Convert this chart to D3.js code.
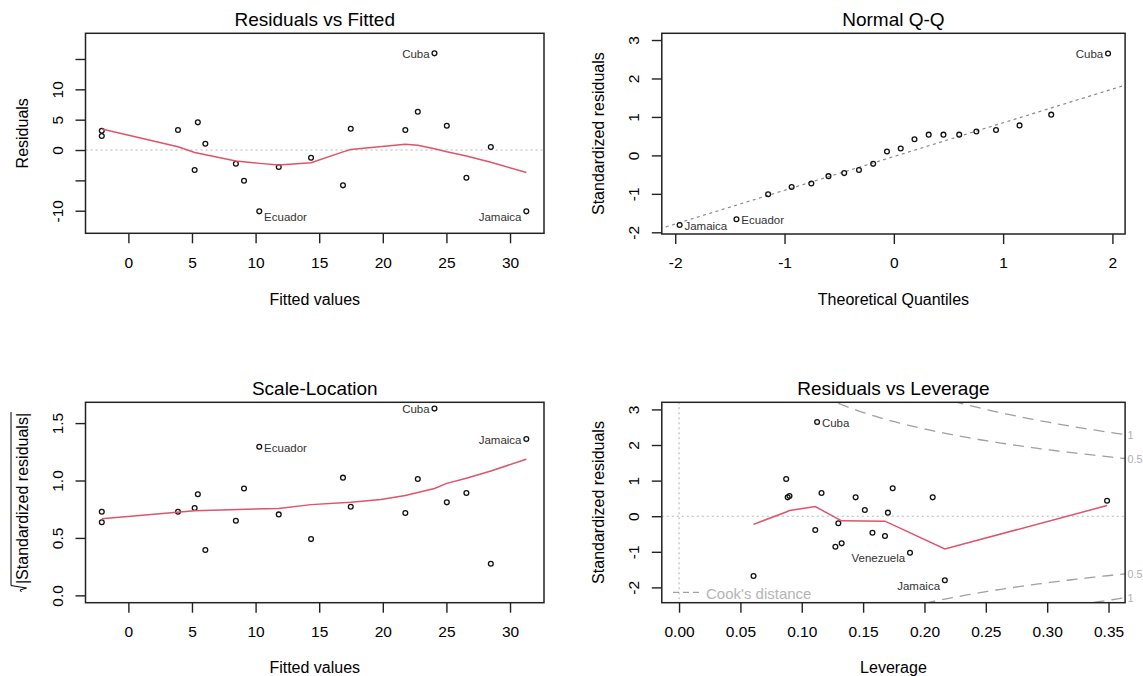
<!DOCTYPE html>
<html><head><meta charset="utf-8">
<script src="https://cdn.jsdelivr.net/npm/d3@7"></script>
<style>html,body{margin:0;padding:0;background:#fff;} svg{display:block;}</style>
</head><body><svg id="c" width="1143" height="676"></svg>
<script>
// ---------- data ----------
const fittedValues   = [-2.09, -2.09, 3.90, 5.21, 5.46, 6.05, 8.45, 9.09, 10.29, 11.82, 14.36, 16.87, 17.48, 21.77, 22.75, 24.06, 25.03, 26.57, 28.49, 31.28];
const residualValues = [3.18, 2.31, 3.29, -3.29, 4.56, 1.04, -2.26, -5.06, -10.1, -2.80, -1.27, -5.82, 3.51, 3.29, 6.31, 15.93, 4.00, -4.56, 0.49, -10.1];
const sqrtStdResiduals = [0.728, 0.636, 0.728, 0.760, 0.880, 0.395, 0.650, 0.930, 1.294, 0.705, 0.490, 1.025, 0.772, 0.717, 1.013, 1.626, 0.810, 0.891, 0.275, 1.361];
const theoreticalQuantiles = [-1.96, -1.44, -1.15, -0.935, -0.755, -0.598, -0.454, -0.319, -0.189, -0.063, 0.063, 0.189, 0.319, 0.454, 0.598, 0.755, 0.935, 1.15, 1.44, 1.96];
const sortedStdResiduals   = [-1.81, -1.66, -1.01, -0.82, -0.73, -0.54, -0.46, -0.38, -0.22, 0.10, 0.18, 0.42, 0.54, 0.54, 0.54, 0.62, 0.66, 0.78, 1.06, 2.65];
const leverageValues = [0.1125, 0.0873, 0.0885, 0.0900, 0.1161, 0.1439, 0.1514, 0.1702, 0.1741, 0.2067, 0.3488, 0.0607, 0.1110, 0.1298, 0.1274, 0.1325, 0.1576, 0.1678, 0.1882, 0.2166];
const leverageStdResiduals = [2.646, 1.045, 0.530, 0.567, 0.652, 0.530, 0.174, 0.100, 0.784, 0.530, 0.436, -1.68, -0.388, -0.200, -0.857, -0.762, -0.463, -0.556, -1.025, -1.80];

const smoothFitX = [-2.09, 3.90, 5.21, 8.45, 10.29, 11.82, 14.36, 16.87, 17.48, 21.77, 22.75, 24.06, 25.03, 26.57, 28.49, 31.28];
const smoothFitY = [3.46, 0.55, -0.40, -1.80, -2.20, -2.47, -2.10, -0.30, 0.10, 0.94, 0.80, 0.20, -0.30, -1.00, -2.00, -3.70];
const smoothScaleX = [-2.09, 5.21, 11.82, 14.36, 17.48, 19.85, 21.77, 24.06, 25.03, 26.57, 28.49, 31.28];
const smoothScaleY = [0.667, 0.737, 0.757, 0.790, 0.810, 0.835, 0.870, 0.930, 0.975, 1.020, 1.083, 1.185];
const smoothLevX = [0.0607, 0.0873, 0.0900, 0.1110, 0.1298, 0.1325, 0.1678, 0.2166, 0.3488];
const smoothLevY = [-0.23, 0.12, 0.16, 0.27, -0.08, -0.13, -0.14, -0.92, 0.30];

const qqLineX = [-2.2, 2.2];
const qqLineY = [-1.96, 1.90];

const cookLevels = [0.5, 1];
const nCoefficients = 3;

const p1LabelIdx = [8, 15, 19], p1LabelText = ["Ecuador", "Cuba", "Jamaica"];
const p2LabelIdx = [0, 1, 19],  p2LabelText = ["Jamaica", "Ecuador", "Cuba"];
const p3LabelIdx = [8, 15, 19], p3LabelText = ["Ecuador", "Cuba", "Jamaica"];
const p4LabelIdx = [0, 18, 19], p4LabelText = ["Cuba", "Venezuela", "Jamaica"];

const fitTicks = [0, 5, 10, 15, 20, 25, 30], fitTickLabels = ["0","5","10","15","20","25","30"];
const resTicks = [-10, -5, 0, 5, 10, 15], resTickLabels = ["-10","","0","5","10",""];
const qqXTicks = [-2, -1, 0, 1, 2], qqXTickLabels = ["-2","-1","0","1","2"];
const stdTicks = [-2, -1, 0, 1, 2, 3], stdTickLabels = ["-2","-1","0","1","2","3"];
const sqrtTicks = [0, 0.5, 1, 1.5], sqrtTickLabels = ["0.0","0.5","1.0","1.5"];
const levTicks = [0, 0.05, 0.10, 0.15, 0.20, 0.25, 0.30, 0.35], levTickLabels = ["0.00","0.05","0.10","0.15","0.20","0.25","0.30","0.35"];

// ---------- drawing ----------
const FONT = '"Liberation Sans", Arial, Helvetica, sans-serif';
const RED = "#DF536B";
const svg = d3.select("#c").attr("font-family", FONT);

function panel(o) {
  const b = o.box;
  const x = d3.scaleLinear().domain(o.xDom).range([b.l, b.r]);
  const y = d3.scaleLinear().domain(o.yDom).range([b.b, b.t]);
  const g = svg.append("g");
  const cid = "clip" + o.id;
  svg.append("clipPath").attr("id", cid).append("rect")
    .attr("x", b.l).attr("y", b.t).attr("width", b.r - b.l).attr("height", b.b - b.t);
  const inner = g.append("g").attr("clip-path", `url(#${cid})`);

  if (o.under) o.under(inner, x, y, g);

  g.append("g").selectAll("circle").data(o.px.map((d, i) => [d, o.py[i]])).join("circle")
    .attr("cx", d => x(d[0])).attr("cy", d => y(d[1])).attr("r", 2.4)
    .attr("fill", "none").attr("stroke", "#111").attr("stroke-width", 1.3);

  if (o.smoothX) {
    const line = d3.line().x(d => x(d[0])).y(d => y(d[1]));
    g.append("path").datum(o.smoothX.map((d, i) => [d, o.smoothY[i]]))
      .attr("d", line).attr("fill", "none").attr("stroke", RED).attr("stroke-width", 1.5);
  }
  if (o.over) o.over(inner, x, y, g);

  // point labels (R text.id rule: side by mean of labelled x range)
  const lx = o.labIdx.map(i => o.px[i]);
  const mid = (d3.min(lx) + d3.max(lx)) / 2;
  o.labIdx.forEach((i, k) => {
    const xv = o.px[i], yv = o.py[i];
    const left = xv > mid;
    const dy = (o.shiftNeg && yv < 0) ? 5.5 : 0.8;
    g.append("text").attr("x", x(xv) + (left ? -4.8 : 4.8)).attr("y", y(yv) + dy)
      .attr("text-anchor", left ? "end" : "start").attr("dominant-baseline", "central")
      .attr("font-size", 11.5).attr("fill", "#333").text(o.labText[k]);
  });

  g.append("rect").attr("x", b.l).attr("y", b.t).attr("width", b.r - b.l).attr("height", b.b - b.t)
    .attr("fill", "none").attr("stroke", "#222").attr("stroke-width", 1.5);

  const xa = d3.axisBottom(x).tickValues(o.xTicks).tickFormat((d, i) => o.xTickLabels[i]).tickSize(10).tickSizeOuter(0);
  const gx = g.append("g").attr("transform", `translate(0,${b.b})`).call(xa);
  gx.select(".domain").remove();
  gx.selectAll("line").attr("stroke", "#222").attr("stroke-width", 1.4);
  gx.selectAll("text").attr("y", o.xTickBase - b.b).attr("dy", null)
    .attr("font-size", 15.5).attr("font-family", FONT).attr("fill", "#000");

  const ya = d3.axisLeft(y).tickValues(o.yTicks).tickFormat((d, i) => o.yTickLabels[i]).tickSize(10).tickSizeOuter(0);
  const gy = g.append("g").attr("transform", `translate(${b.l},0)`).call(ya);
  gy.select(".domain").remove();
  gy.selectAll("line").attr("stroke", "#222").attr("stroke-width", 1.4);
  gy.selectAll("text").attr("x", null).attr("dy", null)
    .attr("transform", "translate(-22.5,0) rotate(-90)").attr("text-anchor", "middle")
    .attr("font-size", 15.5).attr("font-family", FONT).attr("fill", "#000");

  const cx = (b.l + b.r) / 2;
  g.append("text").attr("x", cx).attr("y", o.titleBase).attr("text-anchor", "middle")
    .attr("font-size", 19).attr("fill", "#000").text(o.title);
  g.append("text").attr("x", cx).attr("y", o.xTitleBase).attr("text-anchor", "middle")
    .attr("font-size", 16).attr("fill", "#000").text(o.xTitle);
  const cy = (b.t + b.b) / 2;
  if (o.yTitle) {
    g.append("text").attr("transform", `translate(${b.l - 58},${cy}) rotate(-90)`)
      .attr("text-anchor", "middle").attr("font-size", 16).attr("fill", "#000").text(o.yTitle);
  } else {
    // sqrt(|Standardized residuals|)
    const t = g.append("g").attr("transform", `translate(${b.l - 58},${cy}) rotate(-90)`);
    const txt = t.append("text").attr("font-size", 16).attr("fill", "#000").text("|Standardized residuals|");
    const w = txt.node().getComputedTextLength();
    const rw = 8, total = rw + w, x0 = -total / 2;
    txt.attr("x", x0 + rw);
    t.append("path").attr("d", `M${x0},-6 L${x0 + 2},-7.5 L${x0 + 4},-1 L${x0 + 6.5},-16.5 L${total / 2 + 1},-16.5`)
      .attr("fill", "none").attr("stroke", "#000").attr("stroke-width", 1);
  }
  return { x, y };
}

const zeroDotted = (sel, x, y, b) => sel.append("line")
  .attr("x1", b.l).attr("x2", b.r).attr("y1", y(0)).attr("y2", y(0))
  .attr("stroke", "#b8b8b8").attr("stroke-width", 1.1).attr("stroke-dasharray", "2,3");

const B1 = { l: 85.5, r: 544, t: 33.3, b: 233.3 };
const B2 = { l: 661.8, r: 1125.1, t: 33.3, b: 234 };
const B3 = { l: 85.5, r: 544, t: 402.3, b: 602.7 };
const B4 = { l: 661.8, r: 1125.1, t: 402.3, b: 602.7 };

// Panel 1: Residuals vs Fitted
panel({
  id: 1, box: B1, xDom: [-3.37, 32.67], yDom: [-13.72, 19.23],
  px: fittedValues, py: residualValues, smoothX: smoothFitX, smoothY: smoothFitY,
  over: (inner, x, y) => zeroDotted(inner, x, y, B1),
  labIdx: p1LabelIdx, labText: p1LabelText, shiftNeg: true,
  xTicks: fitTicks, xTickLabels: fitTickLabels, yTicks: resTicks, yTickLabels: resTickLabels,
  title: "Residuals vs Fitted", xTitle: "Fitted values", yTitle: "Residuals",
  titleBase: 26, xTickBase: 267.7, xTitleBase: 305
});

// Panel 2: Normal Q-Q
panel({
  id: 2, box: B2, xDom: [-2.123, 2.116], yDom: [-2.044, 3.175],
  px: theoreticalQuantiles, py: sortedStdResiduals,
  over: (inner, x, y) => inner.append("line")
    .attr("x1", x(qqLineX[0])).attr("y1", y(qqLineY[0])).attr("x2", x(qqLineX[1])).attr("y2", y(qqLineY[1]))
    .attr("stroke", "#8a8a8a").attr("stroke-width", 1.2).attr("stroke-dasharray", "3,3.5"),
  labIdx: p2LabelIdx, labText: p2LabelText, shiftNeg: false,
  xTicks: qqXTicks, xTickLabels: qqXTickLabels, yTicks: stdTicks, yTickLabels: stdTickLabels,
  title: "Normal Q-Q", xTitle: "Theoretical Quantiles", yTitle: "Standardized residuals",
  titleBase: 26, xTickBase: 267.7, xTitleBase: 305
});

// Panel 3: Scale-Location
panel({
  id: 3, box: B3, xDom: [-3.37, 32.67], yDom: [-0.064, 1.681],
  px: fittedValues, py: sqrtStdResiduals, smoothX: smoothScaleX, smoothY: smoothScaleY,
  labIdx: p3LabelIdx, labText: p3LabelText, shiftNeg: false,
  xTicks: fitTicks, xTickLabels: fitTickLabels, yTicks: sqrtTicks, yTickLabels: sqrtTickLabels,
  title: "Scale-Location", xTitle: "Fitted values", yTitle: null,
  titleBase: 395, xTickBase: 636.7, xTitleBase: 673.3
});

// Panel 4: Residuals vs Leverage
panel({
  id: 4, box: B4, xDom: [-0.01406, 0.3635], yDom: [-2.43, 3.20],
  px: leverageValues, py: leverageStdResiduals, smoothX: smoothLevX, smoothY: smoothLevY,
  under: (inner, x, y, g) => {
    zeroDotted(inner, x, y, B4);
    inner.append("line").attr("x1", x(0)).attr("x2", x(0)).attr("y1", B4.t).attr("y2", B4.b)
      .attr("stroke", "#b8b8b8").attr("stroke-width", 1.1).attr("stroke-dasharray", "2,3");
    const xmax = x.domain()[1];
    const hh = d3.range(101).map(i => 0.002 + (xmax - 0.002) * i / 100);
    cookLevels.forEach(D => {
      [1, -1].forEach(s => {
        const pts = hh.map(h => [h, s * Math.sqrt(D * nCoefficients * (1 - h) / h)]);
        inner.append("path").datum(pts).attr("d", d3.line().x(d => x(d[0])).y(d => y(d[1])))
          .attr("fill", "none").attr("stroke", "#a0a0a0").attr("stroke-width", 1.3).attr("stroke-dasharray", "11,7");
        const yv = s * Math.sqrt(D * nCoefficients * (1 - xmax) / xmax);
        g.append("text").attr("x", B4.r + 2.5).attr("y", y(yv)).attr("dominant-baseline", "central")
          .attr("font-size", 10.8).attr("fill", "#b0b0b0").text(String(D));
      });
    });
    g.append("line").attr("x1", 673).attr("x2", 703).attr("y1", 592.3).attr("y2", 592.3)
      .attr("stroke", "#a0a0a0").attr("stroke-width", 1.3).attr("stroke-dasharray", "6,4");
    g.append("text").attr("x", 706).attr("y", 598.5).attr("font-size", 15).attr("fill", "#b5b5b5").text("Cook's distance");
  },
  labIdx: p4LabelIdx, labText: p4LabelText, shiftNeg: true,
  xTicks: levTicks, xTickLabels: levTickLabels, yTicks: stdTicks, yTickLabels: stdTickLabels,
  title: "Residuals vs Leverage", xTitle: "Leverage", yTitle: "Standardized residuals",
  titleBase: 395, xTickBase: 636.7, xTitleBase: 673.3
});
</script>
</body></html>
